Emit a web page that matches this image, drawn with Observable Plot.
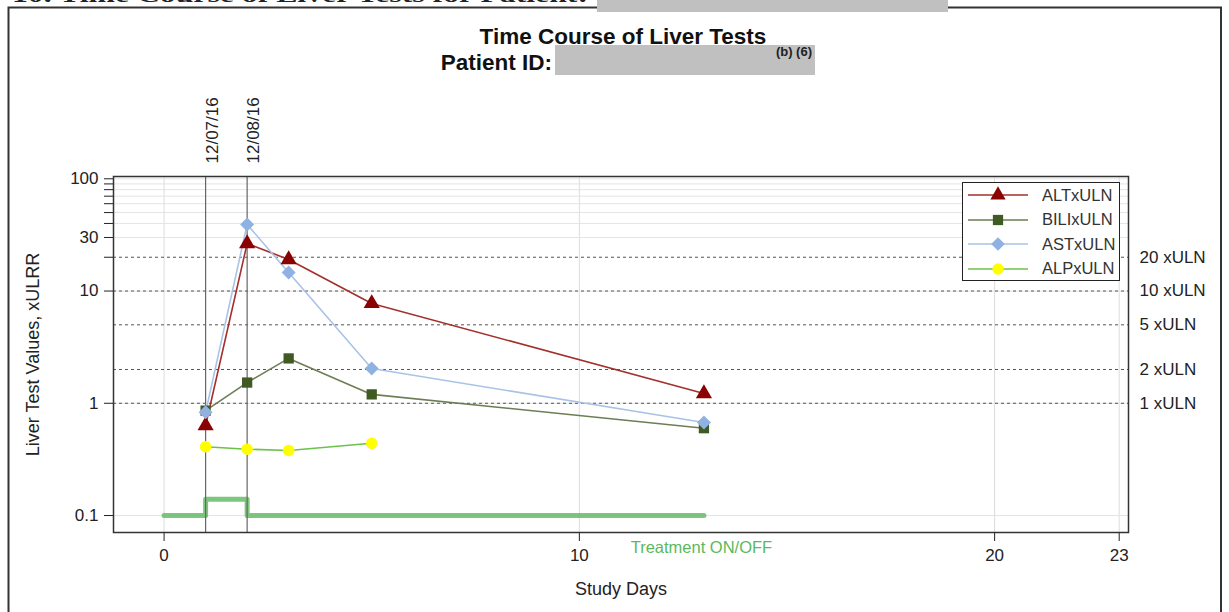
<!DOCTYPE html>
<html>
<head>
<meta charset="utf-8">
<script src="https://cdn.jsdelivr.net/npm/d3@7"></script>
<script src="https://cdn.jsdelivr.net/npm/@observablehq/plot@0.6"></script>
<style>
  html, body { margin: 0; padding: 0; background: white; }
  #wrap { position: relative; width: 1229px; height: 612px; overflow: hidden; font-family: "Liberation Sans", Arial, sans-serif; }
  #chart { position: absolute; left: 0; top: 0; }
  #overlay { position: absolute; left: 0; top: 0; pointer-events: none; }
  #legend { position: absolute; left: 962px; top: 182px; width: 158px; height: 99px; border: 1.5px solid #222; background: white; box-sizing: border-box; }
  .lrow { position: absolute; left: 0; height: 24px; width: 157px; }
  .lrow svg { position: absolute; left: 4px; top: 0; }
  .lrow span { position: absolute; left: 79px; top: 1.5px; font-size: 16.5px; color: #333; }
</style>
</head>
<body>
<div id="wrap">
  <div id="chart"></div>
  <svg id="overlay" width="1229" height="612"></svg>
  <div id="legend"></div>
</div>
<script>
// ---- data ----
const days = [1, 2, 3, 5, 13];
const altValues = [0.634, 26.5, 19.1, 7.75, 1.22];
const biliValues = [0.86, 1.53, 2.51, 1.2, 0.6];
const astValues = [0.83, 39.2, 14.6, 2.04, 0.675];
const alpDays = [1, 2, 3, 5];
const alpValues = [0.41, 0.39, 0.38, 0.44];
const seriesNames = ["ALTxULN", "BILIxULN", "ASTxULN", "ALPxULN"];
const treatDays = [0, 1, 2, 13];
const treatValues = [0.1, 0.14, 0.1, 0.1];
const dateDays = [1, 2];
const dateLabels = ["12/07/16", "12/08/16"];
const refLevels = [1, 2, 5, 10, 20];
const refLabels = ["1 xULN", "2 xULN", "5 xULN", "10 xULN", "20 xULN"];
const xTicks = [0, 10, 20, 23];
const yTicks = [0.1, 1, 10, 30, 60, 100];
const yMinorTicks = [20, 40, 50, 70, 80, 90];
const yGrid = [0.1, 1, 10, 30, 40, 50, 60, 70, 80, 90, 100];

// ---- styles ----
const styles = {
  ALTxULN:  {line: "#a3302c", fill: "#8b0000", symbol: "triangle", r: 6},
  BILIxULN: {line: "#6d7d55", fill: "#3f5a22", symbol: "square", r: 5.8},
  ASTxULN:  {line: "#a9c3e8", fill: "#8fb2e3", symbol: "diamond2", r: 6.3},
  ALPxULN:  {line: "#6cc24a", fill: "#ffff00", symbol: "circle", r: 5.8}
};

const seriesData = {
  ALTxULN: days.map((d, i) => ({day: d, v: altValues[i]})),
  BILIxULN: days.map((d, i) => ({day: d, v: biliValues[i]})),
  ASTxULN: days.map((d, i) => ({day: d, v: astValues[i]})),
  ALPxULN: alpDays.map((d, i) => ({day: d, v: alpValues[i]}))
};
const treatData = treatDays.map((d, i) => ({day: d, v: treatValues[i]}));

const marks = [
  Plot.gridX(xTicks, {stroke: "#dcdcdc", strokeOpacity: 1}),
  Plot.gridY(yGrid, {stroke: "#e4e4e4", strokeOpacity: 1}),
  Plot.ruleY(refLevels, {stroke: "#555", strokeWidth: 1, strokeDasharray: "3,3"}),
  Plot.text(refLevels, {y: d => d, text: (d, i) => refLabels[i], frameAnchor: "right", dx: 11, textAnchor: "start", fontSize: 17, fill: "#222"}),
  Plot.line(treatData, {x: "day", y: "v", curve: "step-after", stroke: "#5cb85c", strokeWidth: 5, strokeOpacity: 0.8}),
  Plot.ruleX(dateDays, {stroke: "#666", strokeWidth: 1.2}),
  Plot.text(dateDays, {x: d => d, text: (d, i) => dateLabels[i], frameAnchor: "top", dy: -13, rotate: -90, textAnchor: "start", fontSize: 17, fill: "#222"}),
  Plot.text(["Treatment ON/OFF"], {x: () => 12.94, text: d => d, frameAnchor: "bottom", dy: 20, fontSize: 16.5, fill: "#5cb85c"}),
  Plot.text(["Study Days"], {text: d => d, frameAnchor: "bottom", dy: 62, fontSize: 18, fill: "#222"}),
  Plot.text(["Liver Test Values, xULRR"], {text: d => d, frameAnchor: "left", dx: -80, rotate: -90, textAnchor: "middle", fontSize: 18, fill: "#222"})
];
for (const name of seriesNames) {
  const s = styles[name];
  marks.push(Plot.line(seriesData[name], {x: "day", y: "v", stroke: s.line, strokeWidth: 1.6}));
}
for (const name of seriesNames) {
  const s = styles[name];
  marks.push(Plot.dot(seriesData[name], {x: "day", y: "v", symbol: () => s.symbol, fill: s.fill, stroke: "none", r: s.r}));
}
marks.push(
  Plot.axisX({ticks: xTicks, tickSize: 9, tickPadding: 7, fontSize: 17, label: null}),
  Plot.axisY({ticks: yTicks, tickFormat: d => String(d), tickSize: 9, tickPadding: 6, fontSize: 17, label: null}),
  Plot.axisY({ticks: yMinorTicks, tickFormat: () => "", tickSize: 9, label: null}),
  Plot.frame({stroke: "#333", strokeWidth: 1.5})
);

const chart = Plot.plot({
  width: 1229,
  height: 612,
  marginLeft: 113,
  marginRight: 101,
  marginTop: 176,
  marginBottom: 80,
  x: {domain: [-1.218, 23.224]},
  y: {type: "log", domain: [0.0706, 104.8]},
  symbol: {type: "identity"},
  style: {fontFamily: "'Liberation Sans', Arial, sans-serif", fontSize: "17px", color: "#222", background: "transparent"},
  marks
});
document.getElementById("chart").appendChild(chart);

// ---- overlay: page header, title, border ----
const ov = d3.select("#overlay");
ov.append("text").attr("x", 12).attr("y", 2).attr("textLength", 576).attr("lengthAdjust", "spacingAndGlyphs")
  .attr("font-family", "'Liberation Serif', serif").attr("font-weight", "bold").attr("font-size", 22).attr("fill", "#222")
  .text("10. Time Course of Liver Tests for Patient:");
ov.append("rect").attr("x", 8.5).attr("y", 7.5).attr("width", 1212.5).attr("height", 620).attr("fill", "none").attr("stroke", "#333").attr("stroke-width", 2);
ov.append("rect").attr("x", 597).attr("y", 0).attr("width", 351).attr("height", 12).attr("fill", "#c0c0c0");
ov.append("text").attr("x", 623).attr("y", 44).attr("text-anchor", "middle")
  .attr("font-family", "'Liberation Sans', Arial, sans-serif").attr("font-weight", "bold").attr("font-size", 22.5).attr("fill", "#111")
  .text("Time Course of Liver Tests");
ov.append("text").attr("x", 552).attr("y", 70).attr("text-anchor", "end")
  .attr("font-family", "'Liberation Sans', Arial, sans-serif").attr("font-weight", "bold").attr("font-size", 22.5).attr("fill", "#111")
  .text("Patient ID:");
ov.append("rect").attr("x", 555).attr("y", 45).attr("width", 260).attr("height", 30).attr("fill", "#c0c0c0");
ov.append("text").attr("x", 812).attr("y", 56).attr("text-anchor", "end")
  .attr("font-family", "'Liberation Sans', Arial, sans-serif").attr("font-weight", "bold").attr("font-size", 13).attr("fill", "#222")
  .text("(b) (6)");

// ---- legend ----
const legend = d3.select("#legend");
const symPaths = {
  triangle: d3.symbol(d3.symbolTriangle, 100)(),
  square: d3.symbol(d3.symbolSquare, 105)(),
  diamond2: d3.symbol(d3.symbolDiamond2, 120)(),
  circle: d3.symbol(d3.symbolCircle, 100)()
};
seriesNames.forEach((name, i) => {
  const s = styles[name];
  const row = legend.append("div").attr("class", "lrow").style("top", (i * 24.5 + 1) + "px");
  const svg = row.append("svg").attr("width", 64).attr("height", 22);
  svg.append("line").attr("x1", 1).attr("x2", 61).attr("y1", 11).attr("y2", 11).attr("stroke", s.line).attr("stroke-width", 1.6);
  svg.append("path").attr("d", symPaths[s.symbol]).attr("transform", "translate(31,11)").attr("fill", s.fill);
  row.append("span").text(name);
});
</script>
</body>
</html>
